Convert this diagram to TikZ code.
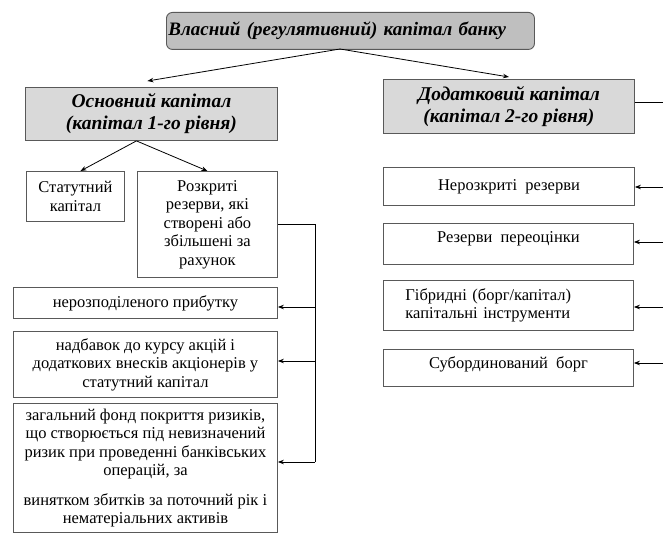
\documentclass[tikz,border=0pt]{standalone}
\usepackage{fontspec}
\setmainfont{Liberation Serif}
\usetikzlibrary{arrows.meta}
\begin{document}
\begin{tikzpicture}[x=1pt,y=-1pt,
  box/.style={draw=black!65, line width=0.9pt, anchor=north west, inner sep=2pt, align=center, font=\fontsize{16.5}{18.5}\selectfont},
  head/.style={box, fill=black!15, font=\fontsize{19.5}{22}\bfseries\itshape\selectfont},
  arr/.style={-{Stealth[length=6pt,width=4.5pt]}, line width=0.8pt}]
\useasboundingbox (0,0) rectangle (663,534);
\node[box, fill=black!25, rounded corners=6pt, minimum width=368pt, minimum height=37pt, text width=364pt, align=left, inner xsep=1pt, font=\fontsize{19}{21}\bfseries\itshape\selectfont] (bank) at (166,12) {Власний (регулятивний) капітал банку};
\node[head, minimum width=252pt, minimum height=53pt] (osn) at (25,87) {Основний капітал\\(капітал 1-го рівня)};
\node[head, minimum width=251pt, minimum height=54pt] (dod) at (383,79) {Додатковий капітал\\(капітал 2-го рівня)};
\node[box, minimum width=98pt, minimum height=50pt] (stat) at (26,171) {Статутний\\капітал};
\node[box, minimum width=140pt, minimum height=106pt] (rozk) at (137,171) {Розкриті\\резерви, які\\створені або\\збільшені за\\рахунок};
\node[box, minimum width=264pt, minimum height=31pt] (nerozp) at (13,287) {нерозподіленого прибутку};
\node[box, minimum width=264pt, minimum height=66pt] (nadb) at (13,331) {надбавок до курсу акцій і\\додаткових внесків акціонерів у\\статутний капітал};
\node[box, minimum width=264pt, minimum height=129pt] (zag) at (13,403) {загальний фонд покриття ризиків,\\що створюється під невизначений\\ризик при проведенні банківських\\операцій, за\\[11pt]винятком збитків за поточний рік і\\нематеріальних активів};
\node[box, minimum width=251pt, minimum height=38pt] (nerozk) at (383,167) {Нерозкриті\ \ резерви};
\node[box, minimum width=250pt, minimum height=41pt, text depth=13pt] (pereoc) at (383,223) {Резерви\ \ переоцінки};
\node[box, minimum width=250pt, minimum height=50pt, text width=206pt, align=left] (gibr) at (383,280) {Гібридні (борг/капітал)\\капітальні інструменти};
\node[box, minimum width=250pt, minimum height=37pt, text depth=11pt] (subord) at (383,349) {Субординований\ \ борг};
% branches from the top
\coordinate (bankout) at (340,49);
\draw[arr] (bankout) -- ([yshift=6pt,xshift=-4pt]osn.north);
\draw[arr] (bankout) -- ([yshift=2pt]dod.north);
\draw[arr] ([xshift=-15pt]osn.south) -- ([xshift=5pt]stat.north);
\draw[arr] ([xshift=-15pt]osn.south) -- (rozk.north);
% bus on the left
\coordinate (j1) at (315,307);
\coordinate (j2) at (315,361);
\coordinate (j3) at (315,462);
\draw[line width=0.8pt] (rozk.east) -- (rozk.east -| j3) -- (j3);
\draw[arr] (j1) -- (j1 -| nerozp.east);
\draw[arr] (j2) -- (j2 -| nadb.east);
\draw[arr] (j3) -- (j3 -| zag.east);
% lines from the right edge
\coordinate (r0) at (663,102);
\coordinate (r1) at (663,187);
\coordinate (r2) at (663,242);
\coordinate (r3) at (663,307);
\coordinate (r4) at (663,363);
\draw[line width=0.8pt] (r0 -| dod.east) -- (r0);
\draw[arr] (r1) -- (r1 -| nerozk.east);
\draw[arr] (r2) -- (r2 -| pereoc.east);
\draw[arr] (r3) -- (r3 -| gibr.east);
\draw[arr] (r4) -- (r4 -| subord.east);
\end{tikzpicture}
\end{document}
